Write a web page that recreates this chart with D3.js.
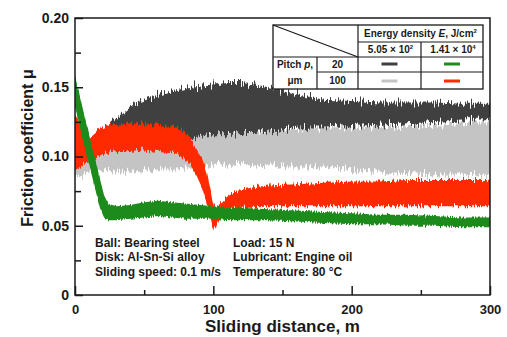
<!DOCTYPE html>
<html><head><meta charset="utf-8">
<script src="https://cdn.jsdelivr.net/npm/d3@7/dist/d3.min.js"></script>
<style>
body{margin:0;background:#fff}
svg{display:block}
text{font-family:"Liberation Sans",Arial,sans-serif;font-weight:bold;fill:#1a1a1a}
</style>
</head><body>
<svg id="c" width="507" height="337"></svg>
<script>
// ---- data ----
const xTickValues = [0, 100, 200, 300];
const xMinorTicks = [50, 150, 250];
const yTickValues = [0, 0.05, 0.10, 0.15, 0.20];
const yTickLabels = ["0", "0.05", "0.10", "0.15", "0.20"];
const yMinorTicks = [0.025, 0.075, 0.125, 0.175];

// light gray: pitch 100 um, E = 5.05e2
const lightDist  = [0, 5, 10, 15, 20, 30, 40, 50, 60, 70, 80, 86, 90, 100, 120, 140, 160, 180, 200, 220, 240, 260, 280, 300];
const lightUpper = [0.110, 0.110, 0.110, 0.112, 0.114, 0.116, 0.116, 0.116, 0.116, 0.116, 0.116, 0.116, 0.117, 0.118, 0.118, 0.119, 0.120, 0.121, 0.121, 0.122, 0.122, 0.123, 0.124, 0.125];
const lightLower = [0.088, 0.086, 0.089, 0.090, 0.090, 0.089, 0.089, 0.090, 0.090, 0.091, 0.092, 0.093, 0.094, 0.094, 0.094, 0.093, 0.093, 0.092, 0.090, 0.089, 0.088, 0.087, 0.087, 0.086];

// dark gray: pitch 20 um, E = 5.05e2
const darkDist  = [20, 24, 28, 35, 42, 50, 58, 66, 74, 82, 90, 100, 110, 120, 130, 140, 150, 160, 170, 180, 200, 220, 240, 260, 280, 300];
const darkUpper = [0.114, 0.122, 0.126, 0.132, 0.138, 0.141, 0.144, 0.146, 0.148, 0.150, 0.151, 0.152, 0.153, 0.153, 0.152, 0.150, 0.148, 0.145, 0.143, 0.141, 0.140, 0.139, 0.139, 0.139, 0.138, 0.138];
const darkLower = [0.110, 0.110, 0.110, 0.110, 0.110, 0.110, 0.110, 0.110, 0.110, 0.112, 0.114, 0.116, 0.116, 0.117, 0.117, 0.118, 0.119, 0.120, 0.121, 0.121, 0.122, 0.123, 0.124, 0.125, 0.126, 0.127];

// red: pitch 100 um, E = 1.41e4
const redDist  = [0, 3, 6, 10, 14, 18, 22, 26, 30, 40, 50, 60, 70, 76, 80, 84, 88, 92, 95, 97, 99, 100.5, 102, 104, 107, 110, 115, 120, 130, 140, 160, 180, 200, 220, 240, 260, 280, 300];
const redUpper = [0.130, 0.126, 0.118, 0.113, 0.116, 0.120, 0.122, 0.123, 0.123, 0.124, 0.124, 0.123, 0.122, 0.120, 0.117, 0.112, 0.106, 0.099, 0.090, 0.080, 0.070, 0.064, 0.063, 0.065, 0.068, 0.071, 0.074, 0.076, 0.078, 0.079, 0.080, 0.081, 0.082, 0.082, 0.083, 0.083, 0.083, 0.083];
const redLower = [0.090, 0.092, 0.094, 0.095, 0.097, 0.100, 0.102, 0.103, 0.104, 0.104, 0.105, 0.104, 0.103, 0.101, 0.097, 0.093, 0.086, 0.077, 0.067, 0.059, 0.051, 0.047, 0.049, 0.054, 0.058, 0.061, 0.062, 0.063, 0.063, 0.064, 0.064, 0.064, 0.064, 0.064, 0.064, 0.064, 0.064, 0.064];

// green: pitch 20 um, E = 1.41e4
const greenDist  = [0, 3, 6, 9, 12, 15, 18, 21, 24, 27, 30, 40, 50, 60, 70, 80, 90, 100, 110, 120, 140, 160, 180, 200, 220, 240, 260, 280, 300];
const greenUpper = [0.158, 0.146, 0.133, 0.121, 0.108, 0.096, 0.084, 0.072, 0.066, 0.065, 0.064, 0.065, 0.067, 0.068, 0.067, 0.066, 0.065, 0.064, 0.063, 0.063, 0.062, 0.061, 0.060, 0.059, 0.058, 0.058, 0.057, 0.056, 0.056];
const greenLower = [0.136, 0.124, 0.111, 0.099, 0.087, 0.075, 0.063, 0.056, 0.054, 0.054, 0.054, 0.055, 0.056, 0.057, 0.056, 0.055, 0.055, 0.055, 0.054, 0.054, 0.054, 0.053, 0.052, 0.051, 0.051, 0.050, 0.050, 0.049, 0.049];

const notesLeft  = ["Ball: Bearing steel", "Disk: Al-Sn-Si alloy", "Sliding speed: 0.1 m/s"];
const notesRight = ["Load: 15 N", "Lubricant: Engine oil", "Temperature: 80 °C"];

// ---- drawing ----
const svg = d3.select("#c");
const L = 75, R = 490, T = 18, B = 295;
const x = d3.scaleLinear().domain([0, 300]).range([L, R]);
const y = d3.scaleLinear().domain([0, 0.2]).range([B, T]);

const defs = svg.append("defs");
defs.append("clipPath").attr("id", "clip")
  .append("rect").attr("x", L).attr("y", T).attr("width", R - L).attr("height", B - T);

// texture filter: vertical jitter of band edges (purely visual, like the dense raw trace)
function makeFilter(id, seed, amp) {
  const f = defs.append("filter").attr("id", id).attr("x", "-5%").attr("y", "-20%").attr("width", "110%").attr("height", "140%")
    .attr("filterUnits", "objectBoundingBox");
  f.append("feTurbulence").attr("type", "fractalNoise").attr("baseFrequency", "0.7 0.01")
    .attr("numOctaves", 2).attr("seed", seed).attr("result", "noise");
  f.append("feColorMatrix").attr("in", "noise").attr("type", "matrix")
    .attr("values", "0 0 0 0 0.5  0 1.6 0 0 -0.3  0 0 1 0 0  0 0 0 0 1").attr("result", "disp");
  f.append("feDisplacementMap").attr("in", "SourceGraphic").attr("in2", "disp")
    .attr("scale", amp).attr("xChannelSelector", "R").attr("yChannelSelector", "G");
}

function band(dist, up, lo) { return dist.map((d, i) => ({d, hi: up[i], lo: lo[i]})); }
const area = d3.area().x(p => x(p.d)).y0(p => y(p.lo)).y1(p => y(p.hi));

const series = [
  {data: band(lightDist, lightUpper, lightLower), color: "#c4c4c4", seed: 3, amp: 10},
  {data: band(darkDist, darkUpper, darkLower), color: "#3f3f3f", seed: 7, amp: 12},
  {data: band(redDist, redUpper, redLower), color: "#ff2a00", seed: 11, amp: 7},
  {data: band(greenDist, greenUpper, greenLower), color: "#1f8b1f", seed: 19, amp: 4}
];
const g = svg.append("g").attr("clip-path", "url(#clip)");
series.forEach((s, i) => {
  makeFilter("tex" + i, s.seed, s.amp);
  g.append("g").attr("filter", `url(#tex${i})`)
    .append("path").datum(s.data).attr("d", area).attr("fill", s.color);
});

// frame
svg.append("rect").attr("x", L).attr("y", T).attr("width", R - L).attr("height", B - T)
  .attr("fill", "none").attr("stroke", "#1a1a1a").attr("stroke-width", 1.5);

// x axis ticks (inward)
const xAxis = d3.axisBottom(x).tickValues(xTickValues).tickSizeInner(-9).tickSizeOuter(0).tickPadding(10).tickFormat(d3.format("d"));
const gx = svg.append("g").attr("transform", `translate(0,${B})`).call(xAxis);
gx.select(".domain").remove();
gx.selectAll("line").attr("stroke", "#1a1a1a").attr("stroke-width", 1.5);
gx.selectAll("text").attr("font-size", 13).style("font-family", "'Liberation Sans',Arial,sans-serif").style("font-weight", "bold").attr("fill", "#1a1a1a");
const gxm = svg.append("g").attr("transform", `translate(0,${B})`)
  .call(d3.axisBottom(x).tickValues(xMinorTicks).tickSizeInner(-5).tickSizeOuter(0).tickFormat(""));
gxm.select(".domain").remove();
gxm.selectAll("line").attr("stroke", "#1a1a1a").attr("stroke-width", 1.5);

// y axis ticks (inward)
const yAxis = d3.axisLeft(y).tickValues(yTickValues).tickSizeInner(-8).tickSizeOuter(0).tickPadding(6)
  .tickFormat((d, i) => yTickLabels[i]);
const gy = svg.append("g").attr("transform", `translate(${L},0)`).call(yAxis);
gy.select(".domain").remove();
gy.selectAll("line").attr("stroke", "#1a1a1a").attr("stroke-width", 1.5);
gy.selectAll("text").attr("font-size", 14).style("font-family", "'Liberation Sans',Arial,sans-serif").style("font-weight", "bold").attr("fill", "#1a1a1a");
const gym = svg.append("g").attr("transform", `translate(${L},0)`)
  .call(d3.axisLeft(y).tickValues(yMinorTicks).tickSizeInner(-6).tickSizeOuter(0).tickFormat(""));
gym.select(".domain").remove();
gym.selectAll("line").attr("stroke", "#1a1a1a").attr("stroke-width", 1.5);

// axis titles
svg.append("text").attr("x", (L + R) / 2).attr("y", 332).attr("text-anchor", "middle")
  .attr("font-size", 17).text("Sliding distance, m");
svg.append("text").attr("transform", "translate(33,148) rotate(-90)").attr("text-anchor", "middle")
  .attr("font-size", 16).text("Friction coefficient μ");

// notes
notesLeft.forEach((t, i) => svg.append("text").attr("x", 95).attr("y", 247 + i * 14.3).attr("font-size", 12).text(t));
notesRight.forEach((t, i) => svg.append("text").attr("x", 233).attr("y", 247 + i * 14.3).attr("font-size", 12).text(t));

// legend table
const lg = svg.append("g");
const bx0 = 273, bx1 = 317, bx2 = 358, bx3 = 421, bx4 = 483;
const by0 = 25, by1 = 42, by2 = 57, by3 = 72, by4 = 89;
lg.append("rect").attr("x", bx0).attr("y", by0).attr("width", bx4 - bx0).attr("height", by4 - by0)
  .attr("fill", "#fff").attr("stroke", "#1a1a1a").attr("stroke-width", 1.3);
const seg = [[bx0, by0, bx2, by2], [bx2, by0, bx2, by4], [bx3, by1, bx3, by4], [bx1, by2, bx1, by4],
             [bx2, by1, bx4, by1], [bx0, by2, bx4, by2], [bx1, by3, bx4, by3]];
seg.forEach(s => lg.append("line").attr("x1", s[0]).attr("y1", s[1]).attr("x2", s[2]).attr("y2", s[3])
  .attr("stroke", "#1a1a1a").attr("stroke-width", 1.2));
const t1 = lg.append("text").attr("x", (bx2 + bx4) / 2).attr("y", 37).attr("text-anchor", "middle").attr("font-size", 10);
t1.append("tspan").text("Energy density ");
t1.append("tspan").attr("font-style", "italic").text("E");
t1.append("tspan").text(", J/cm");
t1.append("tspan").attr("font-size", 6).attr("dy", -4).text("2");
function sci(cx, cy, m, e) {
  const t = lg.append("text").attr("x", cx).attr("y", cy).attr("text-anchor", "middle").attr("font-size", 10);
  t.append("tspan").text(m + " × 10");
  t.append("tspan").attr("font-size", 6).attr("dy", -4).text(e);
}
sci((bx2 + bx3) / 2 + 1, 53, "5.05", "2");
sci((bx3 + bx4) / 2 + 1, 53, "1.41", "4");
const t2 = lg.append("text").attr("x", (bx0 + bx1) / 2).attr("y", 68).attr("text-anchor", "middle").attr("font-size", 10);
t2.append("tspan").text("Pitch ");
t2.append("tspan").attr("font-style", "italic").text("p");
t2.append("tspan").text(",");
lg.append("text").attr("x", (bx0 + bx1) / 2).attr("y", 84).attr("text-anchor", "middle").attr("font-size", 10).text("μm");
lg.append("text").attr("x", (bx1 + bx2) / 2).attr("y", 68).attr("text-anchor", "middle").attr("font-size", 10).text("20");
lg.append("text").attr("x", (bx1 + bx2) / 2).attr("y", 84).attr("text-anchor", "middle").attr("font-size", 10).text("100");
const samples = [[bx2, bx3, 64, series[1].color], [bx3, bx4, 64, series[3].color],
                 [bx2, bx3, 81, series[0].color], [bx3, bx4, 81, series[2].color]];
samples.forEach(s => lg.append("line").attr("x1", (s[0] + s[1]) / 2 - 8).attr("x2", (s[0] + s[1]) / 2 + 8)
  .attr("y1", s[2]).attr("y2", s[2]).attr("stroke", s[3]).attr("stroke-width", 3));
</script>
</body></html>
